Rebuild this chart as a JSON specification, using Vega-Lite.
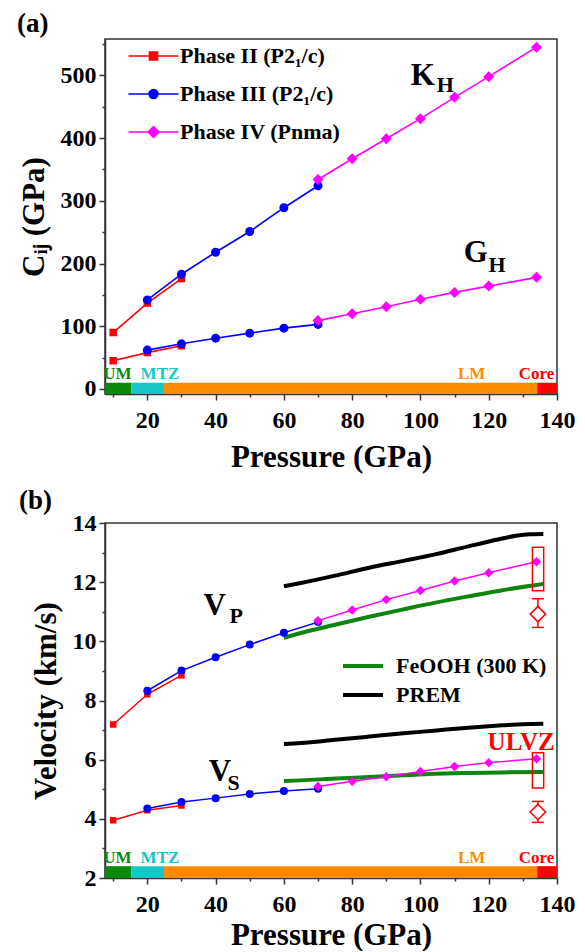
{
"$schema": "https://vega.github.io/schema/vega-lite/v6.json",
"padding": {"left": 16, "top": 9, "right": 0, "bottom": 0},
"spacing": 13,
"config": {
  "font": "Liberation Serif",
  "view": {"stroke": "#333333", "strokeWidth": 1.5},
  "axis": {"grid": false, "domainColor": "#333333", "domainWidth": 1.5, "tickColor": "#333333", "tickWidth": 1.5,
    "labelFont": "Liberation Serif", "labelFontSize": 24, "labelFontWeight": "bold", "labelColor": "black",
    "titleFont": "Liberation Serif", "titleFontSize": 31, "titleFontWeight": "bold", "titleColor": "black"},
  "title": {"font": "Liberation Serif", "fontSize": 27, "fontWeight": "bold", "color": "black", "anchor": "start", "frame": "bounds"},
  "text": {"font": "Liberation Serif", "fontWeight": "bold"}
},
"resolve": {"scale": {"x": "independent", "y": "independent", "color": "independent", "stroke": "independent", "fill": "independent"}},
"datasets": {
  "zones": [
    {"zone": "UM", "from": 7.6, "to": 15.3, "mid": 11.2},
    {"zone": "MTZ", "from": 15.3, "to": 24.9, "mid": 23.7},
    {"zone": "LM", "from": 24.9, "to": 134.2, "mid": 115},
    {"zone": "Core", "from": 134.2, "to": 140, "mid": 134}
  ],
  "moduli": [
    {"p": 10, "v": 90, "q": "K", "phase": "Phase II (P2₁/c)"},
    {"p": 20, "v": 137, "q": "K", "phase": "Phase II (P2₁/c)"},
    {"p": 30, "v": 176, "q": "K", "phase": "Phase II (P2₁/c)"},
    {"p": 10, "v": 45, "q": "G", "phase": "Phase II (P2₁/c)"},
    {"p": 20, "v": 58, "q": "G", "phase": "Phase II (P2₁/c)"},
    {"p": 30, "v": 69, "q": "G", "phase": "Phase II (P2₁/c)"},
    {"p": 20, "v": 142, "q": "K", "phase": "Phase III (P2₁/c)"},
    {"p": 30, "v": 183, "q": "K", "phase": "Phase III (P2₁/c)"},
    {"p": 40, "v": 218, "q": "K", "phase": "Phase III (P2₁/c)"},
    {"p": 50, "v": 251, "q": "K", "phase": "Phase III (P2₁/c)"},
    {"p": 60, "v": 289, "q": "K", "phase": "Phase III (P2₁/c)"},
    {"p": 70, "v": 324, "q": "K", "phase": "Phase III (P2₁/c)"},
    {"p": 20, "v": 62, "q": "G", "phase": "Phase III (P2₁/c)"},
    {"p": 30, "v": 72, "q": "G", "phase": "Phase III (P2₁/c)"},
    {"p": 40, "v": 81, "q": "G", "phase": "Phase III (P2₁/c)"},
    {"p": 50, "v": 89, "q": "G", "phase": "Phase III (P2₁/c)"},
    {"p": 60, "v": 97, "q": "G", "phase": "Phase III (P2₁/c)"},
    {"p": 70, "v": 103, "q": "G", "phase": "Phase III (P2₁/c)"},
    {"p": 70, "v": 334, "q": "K", "phase": "Phase IV (Pnma)"},
    {"p": 80, "v": 367, "q": "K", "phase": "Phase IV (Pnma)"},
    {"p": 90, "v": 399, "q": "K", "phase": "Phase IV (Pnma)"},
    {"p": 100, "v": 431, "q": "K", "phase": "Phase IV (Pnma)"},
    {"p": 110, "v": 465, "q": "K", "phase": "Phase IV (Pnma)"},
    {"p": 120, "v": 498, "q": "K", "phase": "Phase IV (Pnma)"},
    {"p": 134, "v": 545, "q": "K", "phase": "Phase IV (Pnma)"},
    {"p": 70, "v": 109, "q": "G", "phase": "Phase IV (Pnma)"},
    {"p": 80, "v": 120, "q": "G", "phase": "Phase IV (Pnma)"},
    {"p": 90, "v": 131, "q": "G", "phase": "Phase IV (Pnma)"},
    {"p": 100, "v": 143, "q": "G", "phase": "Phase IV (Pnma)"},
    {"p": 110, "v": 154, "q": "G", "phase": "Phase IV (Pnma)"},
    {"p": 120, "v": 164, "q": "G", "phase": "Phase IV (Pnma)"},
    {"p": 134, "v": 178, "q": "G", "phase": "Phase IV (Pnma)"}
  ],
  "velocity": [
    {"p": 10, "v": 7.19, "q": "P", "phase": "Phase II (P2₁/c)"},
    {"p": 20, "v": 8.21, "q": "P", "phase": "Phase II (P2₁/c)"},
    {"p": 30, "v": 8.85, "q": "P", "phase": "Phase II (P2₁/c)"},
    {"p": 10, "v": 3.95, "q": "S", "phase": "Phase II (P2₁/c)"},
    {"p": 20, "v": 4.29, "q": "S", "phase": "Phase II (P2₁/c)"},
    {"p": 30, "v": 4.45, "q": "S", "phase": "Phase II (P2₁/c)"},
    {"p": 20, "v": 8.33, "q": "P", "phase": "Phase III (P2₁/c)"},
    {"p": 30, "v": 9.01, "q": "P", "phase": "Phase III (P2₁/c)"},
    {"p": 40, "v": 9.46, "q": "P", "phase": "Phase III (P2₁/c)"},
    {"p": 50, "v": 9.89, "q": "P", "phase": "Phase III (P2₁/c)"},
    {"p": 60, "v": 10.29, "q": "P", "phase": "Phase III (P2₁/c)"},
    {"p": 70, "v": 10.65, "q": "P", "phase": "Phase III (P2₁/c)"},
    {"p": 20, "v": 4.35, "q": "S", "phase": "Phase III (P2₁/c)"},
    {"p": 30, "v": 4.57, "q": "S", "phase": "Phase III (P2₁/c)"},
    {"p": 40, "v": 4.70, "q": "S", "phase": "Phase III (P2₁/c)"},
    {"p": 50, "v": 4.84, "q": "S", "phase": "Phase III (P2₁/c)"},
    {"p": 60, "v": 4.94, "q": "S", "phase": "Phase III (P2₁/c)"},
    {"p": 70, "v": 5.02, "q": "S", "phase": "Phase III (P2₁/c)"},
    {"p": 70, "v": 10.70, "q": "P", "phase": "Phase IV (Pnma)"},
    {"p": 80, "v": 11.06, "q": "P", "phase": "Phase IV (Pnma)"},
    {"p": 90, "v": 11.41, "q": "P", "phase": "Phase IV (Pnma)"},
    {"p": 100, "v": 11.72, "q": "P", "phase": "Phase IV (Pnma)"},
    {"p": 110, "v": 12.04, "q": "P", "phase": "Phase IV (Pnma)"},
    {"p": 120, "v": 12.32, "q": "P", "phase": "Phase IV (Pnma)"},
    {"p": 134, "v": 12.69, "q": "P", "phase": "Phase IV (Pnma)"},
    {"p": 70, "v": 5.09, "q": "S", "phase": "Phase IV (Pnma)"},
    {"p": 80, "v": 5.27, "q": "S", "phase": "Phase IV (Pnma)"},
    {"p": 90, "v": 5.42, "q": "S", "phase": "Phase IV (Pnma)"},
    {"p": 100, "v": 5.60, "q": "S", "phase": "Phase IV (Pnma)"},
    {"p": 110, "v": 5.77, "q": "S", "phase": "Phase IV (Pnma)"},
    {"p": 120, "v": 5.90, "q": "S", "phase": "Phase IV (Pnma)"},
    {"p": 134, "v": 6.03, "q": "S", "phase": "Phase IV (Pnma)"}
  ],
  "reference": [
    {"p": 60, "v": 11.86, "w": "P", "src": "PREM"},
    {"p": 65, "v": 11.97, "w": "P", "src": "PREM"},
    {"p": 75, "v": 12.22, "w": "P", "src": "PREM"},
    {"p": 85, "v": 12.49, "w": "P", "src": "PREM"},
    {"p": 95, "v": 12.72, "w": "P", "src": "PREM"},
    {"p": 104, "v": 12.93, "w": "P", "src": "PREM"},
    {"p": 114, "v": 13.21, "w": "P", "src": "PREM"},
    {"p": 123, "v": 13.45, "w": "P", "src": "PREM"},
    {"p": 128, "v": 13.57, "w": "P", "src": "PREM"},
    {"p": 132, "v": 13.62, "w": "P", "src": "PREM"},
    {"p": 136, "v": 13.63, "w": "P", "src": "PREM"},
    {"p": 60, "v": 6.53, "w": "S", "src": "PREM"},
    {"p": 65, "v": 6.56, "w": "S", "src": "PREM"},
    {"p": 75, "v": 6.67, "w": "S", "src": "PREM"},
    {"p": 85, "v": 6.78, "w": "S", "src": "PREM"},
    {"p": 95, "v": 6.89, "w": "S", "src": "PREM"},
    {"p": 104, "v": 6.98, "w": "S", "src": "PREM"},
    {"p": 114, "v": 7.08, "w": "S", "src": "PREM"},
    {"p": 124, "v": 7.16, "w": "S", "src": "PREM"},
    {"p": 130, "v": 7.20, "w": "S", "src": "PREM"},
    {"p": 136, "v": 7.21, "w": "S", "src": "PREM"},
    {"p": 60, "v": 10.12, "w": "P", "src": "FeOOH (300 K)"},
    {"p": 65, "v": 10.28, "w": "P", "src": "FeOOH (300 K)"},
    {"p": 75, "v": 10.56, "w": "P", "src": "FeOOH (300 K)"},
    {"p": 85, "v": 10.83, "w": "P", "src": "FeOOH (300 K)"},
    {"p": 95, "v": 11.08, "w": "P", "src": "FeOOH (300 K)"},
    {"p": 104, "v": 11.30, "w": "P", "src": "FeOOH (300 K)"},
    {"p": 114, "v": 11.52, "w": "P", "src": "FeOOH (300 K)"},
    {"p": 124, "v": 11.73, "w": "P", "src": "FeOOH (300 K)"},
    {"p": 136, "v": 11.94, "w": "P", "src": "FeOOH (300 K)"},
    {"p": 60, "v": 5.28, "w": "S", "src": "FeOOH (300 K)"},
    {"p": 65, "v": 5.30, "w": "S", "src": "FeOOH (300 K)"},
    {"p": 75, "v": 5.36, "w": "S", "src": "FeOOH (300 K)"},
    {"p": 85, "v": 5.41, "w": "S", "src": "FeOOH (300 K)"},
    {"p": 95, "v": 5.47, "w": "S", "src": "FeOOH (300 K)"},
    {"p": 104, "v": 5.52, "w": "S", "src": "FeOOH (300 K)"},
    {"p": 114, "v": 5.55, "w": "S", "src": "FeOOH (300 K)"},
    {"p": 124, "v": 5.57, "w": "S", "src": "FeOOH (300 K)"},
    {"p": 136, "v": 5.58, "w": "S", "src": "FeOOH (300 K)"}
  ],
  "ulvz": [
    {"w": "P", "p": 134.4, "p1": 132.8, "p2": 136.1, "lo": 11.71, "hi": 13.18, "c": 10.92, "elo": 10.47, "ehi": 11.44},
    {"w": "S", "p": 134.4, "p1": 132.8, "p2": 136.1, "lo": 5.04, "hi": 6.23, "c": 4.23, "elo": 3.88, "ehi": 4.59}
  ],
  "labelsA": [
    {"t": "K", "p": 100.7, "v": 484, "s": "H", "ps": 104.8, "vs": 473},
    {"t": "G", "p": 116.2, "v": 202, "s": "H", "ps": 119.9, "vs": 186}
  ],
  "labelsB": [
    {"t": "V", "p": 39.7, "v": 10.9, "s": "P", "ps": 44.1, "vs": 10.62},
    {"t": "V", "p": 41.3, "v": 5.27, "s": "S", "ps": 43.5, "vs": 4.99}
  ]
},
"vconcat": [
  {
    "title": {"text": "(a)", "offset": 1, "dx": -1},
    "width": 452,
    "height": 355,
    "resolve": {"axis": {"x": "independent", "y": "independent"}},
    "layer": [
      {
        "data": {"name": "zones"},
        "mark": {"type": "rect"},
        "encoding": {
          "x": {"field": "from", "type": "quantitative", "scale": {"domain": [7.6, 140], "nice": false, "zero": false},
            "axis": {"orient": "bottom", "title": "Pressure (GPa)", "values": [20, 40, 60, 80, 100, 120, 140],
              "labelFont": "Liberation Serif", "titleFont": "Liberation Serif", "labelFontSize": 24, "titleFontSize": 31,
              "tickSize": 6, "labelPadding": 8, "titlePadding": 10, "labelOverlap": false, "labelFlush": false}},
          "x2": {"field": "to"},
          "y": {"datum": -8, "type": "quantitative", "scale": {"domain": [-8, 558], "nice": false, "zero": false},
            "axis": {"orient": "left", "title": "Cᵢⱼ (GPa)", "values": [0, 100, 200, 300, 400, 500],
              "labelFont": "Liberation Serif", "titleFont": "Liberation Serif", "labelFontSize": 24, "titleFontSize": 31,
              "tickSize": 6, "labelPadding": 3, "titlePadding": 10, "labelOverlap": false, "labelFlush": false}},
          "y2": {"datum": 10},
          "fill": {"field": "zone", "type": "nominal", "scale": {"domain": ["UM", "MTZ", "LM", "Core"], "range": ["#0a8a0a", "#17c6c6", "#ff8a00", "#ff0000"]}, "legend": null}
        }
      },
      {
        "data": {"name": "zones"},
        "mark": {"type": "text", "fontSize": 17, "fontWeight": "bold", "baseline": "alphabetic", "dy": -4},
        "encoding": {
          "x": {"field": "mid", "type": "quantitative", "scale": {"domain": [7.6, 140], "nice": false, "zero": false},
            "axis": {"orient": "bottom", "title": null, "values": [10, 30, 50, 70, 90, 110, 130], "labels": false, "domain": false, "tickSize": 3}},
          "y": {"datum": 10, "type": "quantitative", "scale": {"domain": [-8, 558], "nice": false, "zero": false},
            "axis": {"orient": "left", "title": null, "values": [50, 150, 250, 350, 450, 550], "labels": false, "domain": false, "tickSize": 3}},
          "text": {"field": "zone"},
          "fill": {"field": "zone", "type": "nominal", "scale": {"domain": ["UM", "MTZ", "LM", "Core"], "range": ["#0a8a0a", "#17c6c6", "#ff8a00", "#ff0000"]}, "legend": null}
        }
      },
      {
        "data": {"name": "moduli"},
        "mark": {"type": "line", "strokeWidth": 1.6},
        "encoding": {
          "x": {"field": "p", "type": "quantitative", "scale": {"domain": [7.6, 140], "nice": false, "zero": false}, "axis": null},
          "y": {"field": "v", "type": "quantitative", "scale": {"domain": [-8, 558], "nice": false, "zero": false}, "axis": null},
          "detail": {"field": "q"},
          "color": {"field": "phase", "type": "nominal",
            "scale": {"domain": ["Phase II (P2₁/c)", "Phase III (P2₁/c)", "Phase IV (Pnma)"], "range": ["#ff0000", "#0000ff", "#ff00ff"]},
            "legend": {"orient": "none", "legendX": 37.5, "legendY": 6, "title": null, "padding": 0,
              "labelFont": "Liberation Serif", "labelFontSize": 22, "labelFontWeight": "bold", "labelColor": "black", "labelLimit": 400,
              "symbolSize": 64, "labelOffset": 15.6, "rowPadding": 16, "symbolStrokeWidth": 1.6,
              "encode": {"symbols": {"update": {
                "shape": {"signal": "indexof(datum.value,'IV')>=0 ? 'M-6.25,0H-1.35M1.35,0H6.25M-1.35,0L0,-1.35L1.35,0L0,1.35Z' : indexof(datum.value,'III')>=0 ? 'M-6.25,0H-1.1M1.1,0H6.25M-1.1,0A1.1,1.1,0,1,1,1.1,0A1.1,1.1,0,1,1,-1.1,0Z' : 'M-6.25,0H-1M1,0H6.25M-1,-1H1V1H-1Z'"},
                "fill": {"signal": "indexof(datum.value,'IV')>=0 ? '#ff00ff' : indexof(datum.value,'III')>=0 ? '#0000ff' : '#ff0000'"},
                "stroke": {"signal": "indexof(datum.value,'IV')>=0 ? '#ff00ff' : indexof(datum.value,'III')>=0 ? '#0000ff' : '#ff0000'"},
                "opacity": {"value": 1}
              }}}}
          }
        }
      },
      {
        "data": {"name": "moduli"},
        "transform": [{"filter": "indexof(datum.phase, 'Phase II ') === 0"}],
        "mark": {"type": "point", "shape": "square", "filled": true, "opacity": 1, "size": 56, "color": "#ff0000"},
        "encoding": {
          "x": {"field": "p", "type": "quantitative", "scale": {"domain": [7.6, 140], "nice": false, "zero": false}, "axis": null},
          "y": {"field": "v", "type": "quantitative", "scale": {"domain": [-8, 558], "nice": false, "zero": false}, "axis": null}
        }
      },
      {
        "data": {"name": "moduli"},
        "transform": [{"filter": "indexof(datum.phase, 'Phase III ') === 0"}],
        "mark": {"type": "point", "shape": "circle", "filled": true, "opacity": 1, "size": 81, "color": "#0000ff"},
        "encoding": {
          "x": {"field": "p", "type": "quantitative", "scale": {"domain": [7.6, 140], "nice": false, "zero": false}, "axis": null},
          "y": {"field": "v", "type": "quantitative", "scale": {"domain": [-8, 558], "nice": false, "zero": false}, "axis": null}
        }
      },
      {
        "data": {"name": "moduli"},
        "transform": [{"filter": "indexof(datum.phase, 'Phase IV ') === 0"}],
        "mark": {"type": "point", "shape": "diamond", "filled": true, "opacity": 1, "size": 121, "color": "#ff00ff"},
        "encoding": {
          "x": {"field": "p", "type": "quantitative", "scale": {"domain": [7.6, 140], "nice": false, "zero": false}, "axis": null},
          "y": {"field": "v", "type": "quantitative", "scale": {"domain": [-8, 558], "nice": false, "zero": false}, "axis": null}
        }
      },
      {
        "data": {"name": "labelsA"},
        "mark": {"type": "text", "fontSize": 31, "fontWeight": "bold", "align": "center", "baseline": "alphabetic", "color": "black"},
        "encoding": {
          "x": {"field": "p", "type": "quantitative", "scale": {"domain": [7.6, 140], "nice": false, "zero": false}, "axis": null},
          "y": {"field": "v", "type": "quantitative", "scale": {"domain": [-8, 558], "nice": false, "zero": false}, "axis": null},
          "text": {"field": "t"}
        }
      },
      {
        "data": {"name": "labelsA"},
        "mark": {"type": "text", "fontSize": 22, "fontWeight": "bold", "align": "left", "baseline": "alphabetic", "color": "black"},
        "encoding": {
          "x": {"field": "ps", "type": "quantitative", "scale": {"domain": [7.6, 140], "nice": false, "zero": false}, "axis": null},
          "y": {"field": "vs", "type": "quantitative", "scale": {"domain": [-8, 558], "nice": false, "zero": false}, "axis": null},
          "text": {"field": "s"}
        }
      }
    ]
  },
  {
    "title": {"text": "(b)", "offset": -4, "dx": -11},
    "width": 452,
    "height": 355,
    "resolve": {"axis": {"x": "independent", "y": "independent"}},
    "layer": [
      {
        "data": {"name": "zones"},
        "mark": {"type": "rect"},
        "encoding": {
          "x": {"field": "from", "type": "quantitative", "scale": {"domain": [7.6, 140], "nice": false, "zero": false},
            "axis": {"orient": "bottom", "title": "Pressure (GPa)", "values": [20, 40, 60, 80, 100, 120, 140],
              "labelFont": "Liberation Serif", "titleFont": "Liberation Serif", "labelFontSize": 24, "titleFontSize": 31,
              "tickSize": 6, "labelPadding": 8, "titlePadding": 4, "labelOverlap": false, "labelFlush": false}},
          "x2": {"field": "to"},
          "y": {"datum": 2, "type": "quantitative", "scale": {"domain": [2, 14], "nice": false, "zero": false},
            "axis": {"orient": "left", "title": "Velocity (km/s)", "values": [2, 4, 6, 8, 10, 12, 14],
              "labelFont": "Liberation Serif", "titleFont": "Liberation Serif", "labelFontSize": 24, "titleFontSize": 31,
              "tickSize": 6, "labelPadding": 3, "titlePadding": 10, "labelOverlap": false, "labelFlush": false}},
          "y2": {"datum": 2.4},
          "fill": {"field": "zone", "type": "nominal", "scale": {"domain": ["UM", "MTZ", "LM", "Core"], "range": ["#0a8a0a", "#17c6c6", "#ff8a00", "#ff0000"]}, "legend": null}
        }
      },
      {
        "data": {"name": "zones"},
        "mark": {"type": "text", "fontSize": 17, "fontWeight": "bold", "baseline": "alphabetic", "dy": -3},
        "encoding": {
          "x": {"field": "mid", "type": "quantitative", "scale": {"domain": [7.6, 140], "nice": false, "zero": false},
            "axis": {"orient": "bottom", "title": null, "values": [10, 30, 50, 70, 90, 110, 130], "labels": false, "domain": false, "tickSize": 3}},
          "y": {"datum": 2.4, "type": "quantitative", "scale": {"domain": [2, 14], "nice": false, "zero": false},
            "axis": {"orient": "left", "title": null, "values": [3, 5, 7, 9, 11, 13], "labels": false, "domain": false, "tickSize": 3}},
          "text": {"field": "zone"},
          "fill": {"field": "zone", "type": "nominal", "scale": {"domain": ["UM", "MTZ", "LM", "Core"], "range": ["#0a8a0a", "#17c6c6", "#ff8a00", "#ff0000"]}, "legend": null}
        }
      },
      {
        "data": {"name": "reference"},
        "mark": {"type": "line", "strokeWidth": 4, "interpolate": "monotone"},
        "encoding": {
          "x": {"field": "p", "type": "quantitative", "scale": {"domain": [7.6, 140], "nice": false, "zero": false}, "axis": null},
          "y": {"field": "v", "type": "quantitative", "scale": {"domain": [2, 14], "nice": false, "zero": false}, "axis": null},
          "detail": {"field": "w"},
          "stroke": {"field": "src", "type": "nominal", "scale": {"domain": ["FeOOH (300 K)", "PREM"], "range": ["#0f840f", "#000000"]},
            "legend": {"orient": "none", "legendX": 247, "legendY": 132, "title": null, "padding": 0,
              "labelFont": "Liberation Serif", "labelFontSize": 22, "labelFontWeight": "bold", "labelColor": "black", "labelLimit": 400,
              "symbolType": "M-5,0H5", "symbolSize": 64, "symbolStrokeWidth": 4, "labelOffset": 22.1, "rowPadding": 7}}
        }
      },
      {
        "data": {"name": "velocity"},
        "mark": {"type": "line", "strokeWidth": 1.5},
        "encoding": {
          "x": {"field": "p", "type": "quantitative", "scale": {"domain": [7.6, 140], "nice": false, "zero": false}, "axis": null},
          "y": {"field": "v", "type": "quantitative", "scale": {"domain": [2, 14], "nice": false, "zero": false}, "axis": null},
          "detail": {"field": "q"},
          "color": {"field": "phase", "type": "nominal",
            "scale": {"domain": ["Phase II (P2₁/c)", "Phase III (P2₁/c)", "Phase IV (Pnma)"], "range": ["#ff0000", "#0000ff", "#ff00ff"]},
            "legend": null}
        }
      },
      {
        "data": {"name": "velocity"},
        "transform": [{"filter": "indexof(datum.phase, 'Phase II ') === 0"}],
        "mark": {"type": "point", "shape": "square", "filled": true, "opacity": 1, "size": 42, "color": "#ff0000"},
        "encoding": {
          "x": {"field": "p", "type": "quantitative", "scale": {"domain": [7.6, 140], "nice": false, "zero": false}, "axis": null},
          "y": {"field": "v", "type": "quantitative", "scale": {"domain": [2, 14], "nice": false, "zero": false}, "axis": null}
        }
      },
      {
        "data": {"name": "velocity"},
        "transform": [{"filter": "indexof(datum.phase, 'Phase III ') === 0"}],
        "mark": {"type": "point", "shape": "circle", "filled": true, "opacity": 1, "size": 64, "color": "#0000ff"},
        "encoding": {
          "x": {"field": "p", "type": "quantitative", "scale": {"domain": [7.6, 140], "nice": false, "zero": false}, "axis": null},
          "y": {"field": "v", "type": "quantitative", "scale": {"domain": [2, 14], "nice": false, "zero": false}, "axis": null}
        }
      },
      {
        "data": {"name": "velocity"},
        "transform": [{"filter": "indexof(datum.phase, 'Phase IV ') === 0"}],
        "mark": {"type": "point", "shape": "diamond", "filled": true, "opacity": 1, "size": 90, "color": "#ff00ff"},
        "encoding": {
          "x": {"field": "p", "type": "quantitative", "scale": {"domain": [7.6, 140], "nice": false, "zero": false}, "axis": null},
          "y": {"field": "v", "type": "quantitative", "scale": {"domain": [2, 14], "nice": false, "zero": false}, "axis": null}
        }
      },
      {
        "data": {"name": "ulvz"},
        "mark": {"type": "rect", "fillOpacity": 0, "stroke": "#ff0000", "strokeWidth": 1.5},
        "encoding": {
          "x": {"field": "p1", "type": "quantitative", "scale": {"domain": [7.6, 140], "nice": false, "zero": false}, "axis": null},
          "x2": {"field": "p2"},
          "y": {"field": "lo", "type": "quantitative", "scale": {"domain": [2, 14], "nice": false, "zero": false}, "axis": null},
          "y2": {"field": "hi"}
        }
      },
      {
        "data": {"name": "ulvz"},
        "mark": {"type": "rule", "color": "#ff0000", "strokeWidth": 1.5},
        "encoding": {
          "x": {"field": "p", "type": "quantitative", "scale": {"domain": [7.6, 140], "nice": false, "zero": false}, "axis": null},
          "y": {"field": "elo", "type": "quantitative", "scale": {"domain": [2, 14], "nice": false, "zero": false}, "axis": null},
          "y2": {"field": "ehi"}
        }
      },
      {
        "data": {"name": "ulvz"},
        "mark": {"type": "tick", "orient": "horizontal", "size": 12, "thickness": 1.5, "color": "#ff0000", "opacity": 1},
        "encoding": {
          "x": {"field": "p", "type": "quantitative", "scale": {"domain": [7.6, 140], "nice": false, "zero": false}, "axis": null},
          "y": {"field": "elo", "type": "quantitative", "scale": {"domain": [2, 14], "nice": false, "zero": false}, "axis": null}
        }
      },
      {
        "data": {"name": "ulvz"},
        "mark": {"type": "tick", "orient": "horizontal", "size": 12, "thickness": 1.5, "color": "#ff0000", "opacity": 1},
        "encoding": {
          "x": {"field": "p", "type": "quantitative", "scale": {"domain": [7.6, 140], "nice": false, "zero": false}, "axis": null},
          "y": {"field": "ehi", "type": "quantitative", "scale": {"domain": [2, 14], "nice": false, "zero": false}, "axis": null}
        }
      },
      {
        "data": {"name": "ulvz"},
        "mark": {"type": "point", "shape": "diamond", "size": 240, "filled": true, "fill": "white", "stroke": "#ff0000", "strokeWidth": 1.5, "opacity": 1},
        "encoding": {
          "x": {"field": "p", "type": "quantitative", "scale": {"domain": [7.6, 140], "nice": false, "zero": false}, "axis": null},
          "y": {"field": "c", "type": "quantitative", "scale": {"domain": [2, 14], "nice": false, "zero": false}, "axis": null}
        }
      },
      {
        "data": {"values": [{"t": "ULVZ", "p": 129.5, "v": 6.34}]},
        "mark": {"type": "text", "fontSize": 25, "fontWeight": "bold", "align": "center", "baseline": "alphabetic", "color": "#ff0000"},
        "encoding": {
          "x": {"field": "p", "type": "quantitative", "scale": {"domain": [7.6, 140], "nice": false, "zero": false}, "axis": null},
          "y": {"field": "v", "type": "quantitative", "scale": {"domain": [2, 14], "nice": false, "zero": false}, "axis": null},
          "text": {"field": "t"}
        }
      },
      {
        "data": {"name": "labelsB"},
        "mark": {"type": "text", "fontSize": 31, "fontWeight": "bold", "align": "center", "baseline": "alphabetic", "color": "black"},
        "encoding": {
          "x": {"field": "p", "type": "quantitative", "scale": {"domain": [7.6, 140], "nice": false, "zero": false}, "axis": null},
          "y": {"field": "v", "type": "quantitative", "scale": {"domain": [2, 14], "nice": false, "zero": false}, "axis": null},
          "text": {"field": "t"}
        }
      },
      {
        "data": {"name": "labelsB"},
        "mark": {"type": "text", "fontSize": 22, "fontWeight": "bold", "align": "left", "baseline": "alphabetic", "color": "black"},
        "encoding": {
          "x": {"field": "ps", "type": "quantitative", "scale": {"domain": [7.6, 140], "nice": false, "zero": false}, "axis": null},
          "y": {"field": "vs", "type": "quantitative", "scale": {"domain": [2, 14], "nice": false, "zero": false}, "axis": null},
          "text": {"field": "s"}
        }
      }
    ]
  }
]
}
